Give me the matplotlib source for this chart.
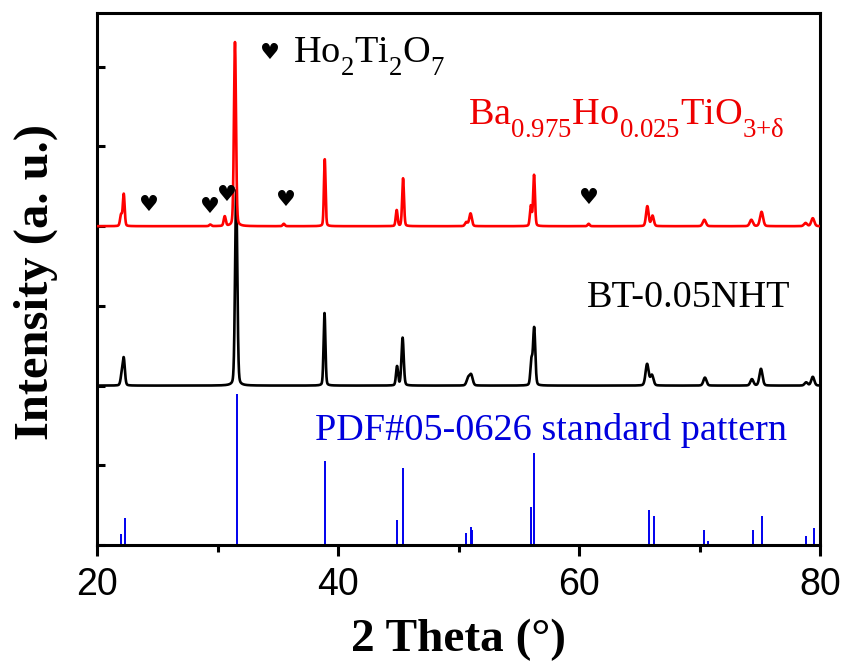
import numpy as np
import matplotlib
matplotlib.use("Agg")
import matplotlib.pyplot as plt
from matplotlib.ticker import MultipleLocator, NullFormatter

try:
    from matplotlib import _mathtext
    _mathtext.FontConstantsBase.subdrop = 0.75
    _mathtext.FontConstantsBase.sub1 = 0.75
except Exception:
    pass

# ---------------- data ----------------
# BT-0.05NHT (black) peaks: position (deg), height above baseline, FWHM
black_pos = [22.05, 22.22, 31.55, 38.88, 44.90, 45.36, 50.80, 51.05, 56.05, 56.28,
             65.65, 66.05, 70.45, 74.35, 75.10, 78.85, 79.40]
black_h = [0.12, 0.33, 2.45, 0.91, 0.24, 0.60, 0.09, 0.13, 0.30, 0.72,
           0.27, 0.13, 0.10, 0.08, 0.21, 0.04, 0.11]
black_w = [0.22, 0.22, 0.22, 0.18, 0.20, 0.22, 0.30, 0.30, 0.20, 0.22,
           0.30, 0.30, 0.30, 0.30, 0.30, 0.30, 0.30]
black_offset = 2.0

# Ba0.975Ho0.025TiO3+d (red) peaks
red_pos = [22.00, 22.22, 29.40, 30.60, 31.45, 35.50, 38.90, 44.87, 45.40, 50.65,
           51.00, 56.00, 56.27, 60.80, 65.67, 66.10, 70.40, 74.30, 75.15, 78.80, 79.40]
red_h = [0.14, 0.40, 0.02, 0.12, 2.31, 0.03, 0.84, 0.20, 0.60, 0.05,
         0.16, 0.25, 0.64, 0.03, 0.25, 0.13, 0.08, 0.08, 0.18, 0.04, 0.10]
red_w = [0.20, 0.18, 0.20, 0.20, 0.20, 0.20, 0.16, 0.18, 0.18, 0.25,
         0.25, 0.18, 0.18, 0.20, 0.25, 0.25, 0.30, 0.30, 0.30, 0.30, 0.30]
red_offset = 4.0

# PDF#05-0626 standard pattern sticks
std_pos = [22.00, 22.30, 31.60, 38.90, 44.87, 45.40, 50.65, 51.00, 51.10, 56.00,
           56.30, 65.80, 66.20, 70.40, 70.70, 74.40, 75.20, 78.80, 79.50]
std_h = [0.14, 0.34, 1.89, 1.05, 0.31, 0.97, 0.15, 0.23, 0.19, 0.48,
         1.15, 0.44, 0.36, 0.19, 0.05, 0.19, 0.36, 0.11, 0.21]

# Ho2Ti2O7 impurity markers (hearts)
heart_x = [24.3, 29.4, 30.8, 35.7, 60.85]
heart_y = [4.27, 4.24, 4.39, 4.33, 4.35]

x_ticks = [20, 40, 60, 80]

# ---------------- build profiles ----------------
tt = np.linspace(20, 80, 12001)


def profile(pos, h, w):
    y = np.zeros_like(tt)
    for p, a, f in zip(pos, h, w):
        s = f / 2.3548
        g = np.exp(-0.5 * ((tt - p) / s) ** 2)
        lz = 1.0 / (1.0 + ((tt - p) / (f / 2)) ** 2)
        y += a * (0.8 * g + 0.2 * lz)
    return y


plt.rcParams['mathtext.fontset'] = 'custom'
plt.rcParams['mathtext.rm'] = 'Liberation Serif'
plt.rcParams['mathtext.it'] = 'Liberation Serif:italic'
plt.rcParams['mathtext.bf'] = 'Liberation Serif:bold'

fig = plt.figure(figsize=(8.46, 6.61), dpi=100)
ax = fig.add_axes([97 / 846, 1 - 545 / 661, 723 / 846, 532 / 661])

ax.vlines(std_pos, 0, std_h, color='#0000EE', lw=1.4)
ax.plot(tt, black_offset + profile(black_pos, black_h, black_w), color='black', lw=1.9, zorder=3)
ax.plot(tt, red_offset + profile(red_pos, red_h, red_w), color='#FF0000', lw=1.9, zorder=4)

for hx, hy in zip(heart_x, heart_y):
    ax.text(hx, hy, '\u2665', family='DejaVu Sans', fontsize=16, ha='center', va='center',
            color='black', zorder=5)

lab_fs = 27.5
ax.text(34.36, 6.17, '\u2665', family='DejaVu Sans', fontsize=16, ha='center', va='center')
ax.text(36.27, 6.05, r'Ho$_2$Ti$_2$O$_7$', family='Liberation Serif', fontsize=lab_fs,
        va='baseline', ha='left')
ax.text(50.79, 5.27, r'Ba$_{0.975}$Ho$_{0.025}$TiO$_{3{+}\mathrm{\delta}}$',
        family='Liberation Serif', fontsize=lab_fs, va='baseline', ha='left', color='#EE0000')
ax.text(60.64, 2.99, 'BT-0.05NHT', family='Liberation Serif', fontsize=lab_fs,
        va='baseline', ha='left', color='black')
ax.text(38.09, 1.32, 'PDF#05-0626 standard pattern', family='Liberation Serif', fontsize=lab_fs,
        va='baseline', ha='left', color='#0000DD')

ax.set_xlim(20, 80)
ax.set_ylim(0, 6.675)
ax.set_xticks(x_ticks)
ax.xaxis.set_minor_locator(MultipleLocator(10))
ax.set_yticks(np.arange(0, 7, 1))
ax.yaxis.set_major_formatter(NullFormatter())
ax.tick_params(axis='x', which='major', direction='out', length=8, width=2.2, pad=8,
               labelsize=27)
ax.tick_params(axis='x', which='minor', direction='out', length=5, width=2.2)
ax.tick_params(axis='y', which='major', direction='in', length=6, width=2.2)
for lab in ax.get_xticklabels():
    lab.set_family('Liberation Sans')
for sp in ax.spines.values():
    sp.set_linewidth(2.2)

ax.set_xlabel('2 Theta (°)', family='Liberation Serif', fontweight='bold', fontsize=34,
              va='baseline')
ax.xaxis.set_label_coords(0.5, -106 / 532)
ax.set_ylabel('Intensity (a. u.)', family='Liberation Serif', fontweight='bold', fontsize=35,
              va='baseline')
ax.yaxis.set_label_coords(-49 / 723, 0.495)

fig.savefig('out.png', dpi=100)
